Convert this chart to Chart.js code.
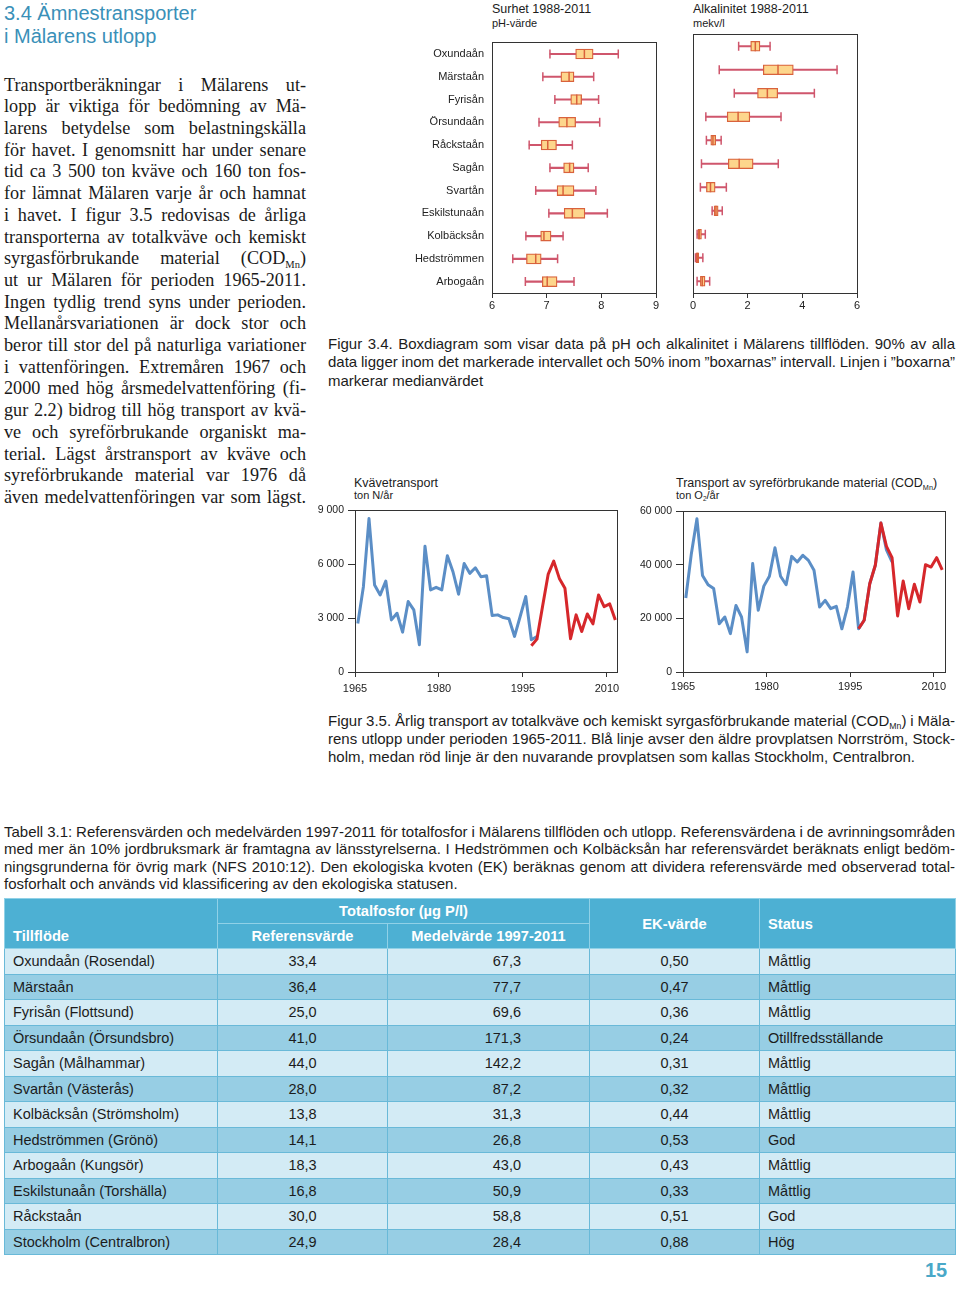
<!DOCTYPE html>
<html lang="sv">
<head>
<meta charset="utf-8">
<title>3.4 Ämnestransporter i Mälarens utlopp</title>
<script src="https://cdn.jsdelivr.net/npm/chart.js@4.4.1/dist/chart.umd.min.js"></script>
<style>
html,body{margin:0;padding:0;background:#fff}
body{position:relative;width:960px;height:1290px;overflow:hidden;font-family:'Liberation Sans',Arial,Helvetica,sans-serif;color:#1c1c1c}
.a{position:absolute}
.ln{white-space:nowrap}
.ln>span{display:inline-block;white-space:nowrap}
sub{font-size:0.58em;line-height:0;vertical-align:-0.35em}
#head{left:4px;top:2px;font-size:20px;line-height:23px;color:#3a90b8}
#body{left:4px;top:74.6px;width:302px;font-family:'Liberation Serif','Times New Roman',serif;font-size:18.2px;line-height:21.7px;color:#1a1a1a}
.ct{font-size:12.5px;line-height:14px;color:#1c1c1c}
.cu{font-size:11px;line-height:13px;color:#1c1c1c}
.cap{font-size:15px;color:#1c1c1c}
#cap34{left:328px;top:335.2px;width:627px;line-height:18.3px}
#cap35{left:328px;top:711.7px;width:627px;line-height:18px}
#capT{left:4px;top:822.9px;width:951px;line-height:17.5px}
.cw{position:absolute}
#tbl{position:absolute;left:4px;top:898px;width:951px;border-collapse:collapse;table-layout:fixed;font-size:14.5px;color:#1c1c1c}
#tbl th{background:#4db0d3;color:#fff;font-weight:bold;font-size:14.7px;border:1px solid #90d1e7;padding:0;text-align:center;vertical-align:middle}
#tbl td{border:1px solid #69b9d8;padding:0;vertical-align:middle;white-space:nowrap}
#tbl thead tr{height:25px}
#tbl tbody tr{height:25.5px}
tr.lt td{background:#d3ebf5}
tr.dk td{background:#97cee4}
td.l{text-align:left;padding-left:8px !important}
td.c{text-align:center}
td.r{text-align:right;padding-right:68px !important}
#pg{left:925px;top:1259px;font-size:20px;line-height:22px;font-weight:bold;color:#4aa8c8}
</style>
</head>
<body>

<div class="a" id="head">3.4 Ämnestransporter<br>i Mälarens utlopp</div>

<div class="a" id="body">
<div class="ln j"><span>Transportberäkningar i Mälarens ut-</span></div>
<div class="ln j"><span>lopp är viktiga för bedömning av Mä-</span></div>
<div class="ln j"><span>larens betydelse som belastningskälla</span></div>
<div class="ln j"><span>för havet. I genomsnitt har under senare</span></div>
<div class="ln j"><span>tid ca 3 500 ton kväve och 160 ton fos-</span></div>
<div class="ln j"><span>for lämnat Mälaren varje år och hamnat</span></div>
<div class="ln j"><span>i havet. I figur 3.5 redovisas de årliga</span></div>
<div class="ln j"><span>transporterna av totalkväve och kemiskt</span></div>
<div class="ln j"><span>syrgasförbrukande material (COD<sub>Mn</sub>)</span></div>
<div class="ln j"><span>ut ur Mälaren för perioden 1965-2011.</span></div>
<div class="ln j"><span>Ingen tydlig trend syns under perioden.</span></div>
<div class="ln j"><span>Mellanårsvariationen är dock stor och</span></div>
<div class="ln j"><span>beror till stor del på naturliga variationer</span></div>
<div class="ln j"><span>i vattenföringen. Extremåren 1967 och</span></div>
<div class="ln j"><span>2000 med hög årsmedelvattenföring (fi-</span></div>
<div class="ln j"><span>gur 2.2) bidrog till hög transport av kvä-</span></div>
<div class="ln j"><span>ve och syreförbrukande organiskt ma-</span></div>
<div class="ln j"><span>terial. Lägst årstransport av kväve och</span></div>
<div class="ln j"><span>syreförbrukande material var 1976 då</span></div>
<div class="ln j"><span>även medelvattenföringen var som lägst.</span></div>
</div>

<!-- Box plot titles -->
<div class="a ct" style="left:492px;top:2px">Surhet 1988-2011</div>
<div class="a cu" style="left:492px;top:16.8px">pH-värde</div>
<div class="a ct" style="left:693px;top:2px">Alkalinitet 1988-2011</div>
<div class="a cu" style="left:693px;top:16.8px">mekv/l</div>

<div class="cw" style="left:400px;top:28px"><canvas id="phChart" width="266" height="292"></canvas></div>
<div class="cw" style="left:640px;top:28px"><canvas id="alkChart" width="226" height="292"></canvas></div>

<div class="a cap" id="cap34">
<div class="ln j"><span>Figur 3.4. Boxdiagram som visar data på pH och alkalinitet i Mälarens tillflöden. 90% av alla</span></div>
<div class="ln j"><span>data ligger inom det markerade intervallet och 50% inom ”boxarnas” intervall. Linjen i ”boxarna”</span></div>
<div class="ln"><span>markerar medianvärdet</span></div>
</div>

<!-- Line chart titles -->
<div class="a ct" style="left:354px;top:475.7px">Kvävetransport</div>
<div class="a cu" style="left:354px;top:488.5px">ton N/år</div>
<div class="a ct" style="left:676px;top:475.7px">Transport av syreförbrukande material (COD<sub>Mn</sub>)</div>
<div class="a cu" style="left:676px;top:488.5px">ton O<sub>2</sub>/år</div>

<div class="cw" style="left:300px;top:500px"><canvas id="nChart" width="325" height="200"></canvas></div>
<div class="cw" style="left:620px;top:500px"><canvas id="codChart" width="335" height="200"></canvas></div>

<div class="a cap" id="cap35">
<div class="ln j"><span>Figur 3.5. Årlig transport av totalkväve och kemiskt syrgasförbrukande material (COD<sub>Mn</sub>) i Mäla-</span></div>
<div class="ln j"><span>rens utlopp under perioden 1965-2011. Blå linje avser den äldre provplatsen Norrström, Stock-</span></div>
<div class="ln"><span>holm, medan röd linje är den nuvarande provplatsen som kallas Stockholm, Centralbron.</span></div>
</div>

<div class="a cap" id="capT">
<div class="ln j"><span>Tabell 3.1: Referensvärden och medelvärden 1997-2011 för totalfosfor i Mälarens tillflöden och utlopp. Referensvärdena i de avrinningsområden</span></div>
<div class="ln j"><span>med mer än 10% jordbruksmark är framtagna av länsstyrelserna. I Hedströmmen och Kolbäcksån har referensvärdet beräknats enligt bedöm-</span></div>
<div class="ln j"><span>ningsgrunderna för övrig mark (NFS 2010:12). Den ekologiska kvoten (EK) beräknas genom att dividera referensvärde med observerad total-</span></div>
<div class="ln"><span>fosforhalt och används vid klassificering av den ekologiska statusen.</span></div>
</div>

<table id="tbl">
<colgroup><col style="width:213px"><col style="width:170px"><col style="width:202px"><col style="width:170px"><col style="width:196px"></colgroup>
<thead>
<tr><th rowspan="2" style="text-align:left;vertical-align:bottom;padding:0 0 4px 8px">Tillflöde</th><th colspan="2">Totalfosfor (µg P/l)</th><th rowspan="2">EK-värde</th><th rowspan="2" style="text-align:left;padding-left:8px">Status</th></tr>
<tr><th>Referensvärde</th><th>Medelvärde 1997-2011</th></tr>
</thead>
<tbody id="tbody"></tbody>
</table>

<div class="a" id="pg">15</div>

<script>
// ---------- Box plot data (Figur 3.4) ----------
const rivers = ['Oxundaån','Märstaån','Fyrisån','Örsundaån','Råckstaån','Sagån','Svartån','Eskilstunaån','Kolbäcksån','Hedströmmen','Arbogaån'];

const phLow  = [7.06, 6.93, 7.15, 6.86, 6.68, 7.06, 6.80, 7.04, 6.62, 6.38, 6.61];
const phQ1   = [7.53, 7.26, 7.44, 7.22, 6.90, 7.31, 7.19, 7.32, 6.89, 6.63, 6.92];
const phMed  = [7.69, 7.41, 7.55, 7.37, 7.02, 7.42, 7.30, 7.47, 6.95, 6.80, 7.01];
const phQ3   = [7.85, 7.50, 7.64, 7.53, 7.18, 7.50, 7.50, 7.70, 7.08, 6.90, 7.19];
const phHigh = [8.31, 7.86, 7.95, 7.97, 7.47, 7.76, 7.90, 8.11, 7.30, 7.20, 7.50];

const alkLow  = [1.67, 0.96, 1.51, 0.47, 0.49, 0.31, 0.27, 0.70, 0.15, 0.09, 0.15];
const alkQ1   = [2.11, 2.57, 2.36, 1.25, 0.65, 1.29, 0.49, 0.77, 0.18, 0.11, 0.27];
const alkMed  = [2.28, 3.11, 2.72, 1.65, 0.73, 1.69, 0.64, 0.84, 0.23, 0.16, 0.34];
const alkQ3   = [2.45, 3.67, 3.10, 2.08, 0.83, 2.20, 0.81, 0.92, 0.31, 0.21, 0.44];
const alkHigh = [2.82, 5.27, 4.44, 3.22, 1.03, 3.12, 1.22, 1.07, 0.45, 0.36, 0.61];

const phTicks  = [6, 7, 8, 9];
const alkTicks = [0, 2, 4, 6];

// ---------- Line chart data (Figur 3.5) ----------
const nBlueYears = [1965,1966,1967,1968,1969,1970,1971,1972,1973,1974,1975,1976,1977,1978,1979,1980,1981,1982,1983,1984,1985,1986,1987,1988,1989,1990,1991,1992,1993,1994,1995,1996,1997];
const nBlue = [2700,4750,8540,4840,4290,5060,2900,3270,2220,3920,3460,1520,7000,4570,4710,4570,6470,5580,4330,6040,5490,5800,5300,5360,3140,3180,3030,2960,1980,3090,4200,1790,1980];
const nRedYears = [1996,1997,1998,1999,2000,2001,2002,2003,2004,2005,2006,2007,2008,2009,2010,2011];
const nRed = [1460,1830,3640,5430,6170,5210,4660,1850,3180,2250,3230,2680,4290,3640,3790,2900];

const codBlueYears = [1965,1966,1967,1968,1969,1970,1971,1972,1973,1974,1975,1976,1977,1978,1979,1980,1981,1982,1983,1984,1985,1986,1987,1988,1989,1990,1991,1992,1993,1994,1995,1996,1997,1998,1999,2000,2001,2002];
const codBlue = [27600,44100,57100,36000,32500,31100,18000,20500,14300,24800,20500,7500,40400,23000,32000,35700,46300,35700,32500,43100,41000,43500,41600,37900,24200,26700,23600,24500,16100,24200,37300,16100,19300,32900,39800,55500,45500,41000];
const codRedYears = [1996,1997,1998,1999,2000,2001,2002,2003,2004,2005,2006,2007,2008,2009,2010,2011];
const codRed = [16100,19300,32900,39800,55500,46800,42600,20900,33900,23600,32700,26100,40000,39100,42600,38100];

const yearTicks = [1965, 1980, 1995, 2010];
const nTicks = [0, 3000, 6000, 9000];
const codTicks = [0, 20000, 40000, 60000];

// ---------- Table data (Tabell 3.1) ----------
const tableRivers = ['Oxundaån (Rosendal)','Märstaån','Fyrisån (Flottsund)','Örsundaån (Örsundsbro)','Sagån (Målhammar)','Svartån (Västerås)','Kolbäcksån (Strömsholm)','Hedströmmen (Grönö)','Arbogaån (Kungsör)','Eskilstunaån (Torshälla)','Råckstaån','Stockholm (Centralbron)'];
const refValues  = [33.4, 36.4, 25.0, 41.0, 44.0, 28.0, 13.8, 14.1, 18.3, 16.8, 30.0, 24.9];
const meanValues = [67.3, 77.7, 69.6, 171.3, 142.2, 87.2, 31.3, 26.8, 43.0, 50.9, 58.8, 28.4];
const ekValues   = [0.50, 0.47, 0.36, 0.24, 0.31, 0.32, 0.44, 0.53, 0.43, 0.33, 0.51, 0.88];
const statusValues = ['Måttlig','Måttlig','Måttlig','Otillfredsställande','Måttlig','Måttlig','Måttlig','God','Måttlig','Måttlig','God','Hög'];

// ---------- Styles ----------
const BOX_FILL = '#fdd68c';
const BOX_LINE = '#d9623c';
const WHISK = '#cf566c';
const BLUE = '#5b8ec6';
const RED = '#d6272b';
const AXIS = '#333333';

Chart.defaults.font.family = "'Liberation Sans', Arial, Helvetica, sans-serif";
Chart.defaults.color = '#222';
Chart.defaults.animation = false;
Chart.defaults.events = [];
Chart.defaults.plugins.legend.display = false;
Chart.defaults.plugins.tooltip.enabled = false;

const al = v => Math.round(v - 0.5) + 0.5;
const framePlugin = {
  id: 'frame',
  beforeDatasetsDraw(chart) {
    const {ctx, chartArea: c} = chart;
    ctx.save();
    ctx.strokeStyle = AXIS;
    ctx.lineWidth = 1;
    const l = al(c.left), t = al(c.top), r = al(c.right), b = al(c.bottom);
    ctx.strokeRect(l, t, r - l, b - t);
    ctx.restore();
  }
};

const thousands = v => v === 0 ? '0' : String(v).replace(/\B(?=(\d{3})+(?!\d))/g, ' ');

function boxChart(id, low, q1, med, q3, high, xTicks, cfg) {
  return new Chart(document.getElementById(id), {
    type: 'bar',
    data: {
      labels: rivers,
      datasets: [
        { type: 'line', indexAxis: 'y', data: rivers.flatMap((r, i) => [{x: low[i], y: r}, {x: high[i], y: r}]),
          showLine: false, pointStyle: 'line', pointRotation: 90, pointRadius: 4.5, pointBorderWidth: 1.5,
          borderColor: WHISK, pointBorderColor: WHISK, backgroundColor: WHISK, order: 0 },
        { type: 'line', indexAxis: 'y', data: rivers.map((r, i) => ({x: med[i], y: r})),
          showLine: false, pointStyle: 'line', pointRotation: 90, pointRadius: 5, pointBorderWidth: 1.5,
          borderColor: BOX_LINE, pointBorderColor: BOX_LINE, backgroundColor: BOX_LINE, order: 1 },
        { data: rivers.map((r, i) => [q1[i], q3[i]]), backgroundColor: BOX_FILL, borderColor: BOX_LINE,
          borderWidth: 1.3, borderSkipped: false, barThickness: 10, grouped: false, order: 2 },
        { data: rivers.map((r, i) => [low[i], high[i]]), backgroundColor: WHISK, borderWidth: 0,
          barThickness: 1.5, grouped: false, order: 3 }
      ]
    },
    options: {
      indexAxis: 'y',
      responsive: false,
      devicePixelRatio: 1,
      layout: { padding: { top: cfg.padTop, right: cfg.padRight, left: 0, bottom: 0 } },
      scales: {
        x: {
          type: 'linear', min: xTicks[0], max: xTicks[xTicks.length - 1],
          afterBuildTicks(s) { s.ticks = xTicks.map(v => ({value: v})); },
          ticks: { padding: 1, font: { size: 11 }, color: '#222', callback: v => String(v) },
          grid: { display: true, drawOnChartArea: false, drawTicks: true, tickLength: 5, color: AXIS },
          border: { display: true, color: AXIS },
          afterFit(s) { s.height = cfg.xH; }
        },
        y: {
          type: 'category', offset: true,
          ticks: { display: cfg.labels, padding: 8, font: { size: 11 }, color: '#222' },
          grid: { display: false, drawTicks: false },
          border: { display: true, color: AXIS },
          afterFit(s) { s.width = cfg.yW; }
        }
      }
    },
    plugins: [framePlugin]
  });
}

function lineChart(id, blueYears, blue, redYears, red, yTicks, cfg) {
  return new Chart(document.getElementById(id), {
    type: 'line',
    data: {
      datasets: [
        { data: redYears.map((y, i) => ({x: y + 0.5, y: red[i]})), borderColor: RED, backgroundColor: RED,
          borderWidth: 3, pointRadius: 0, tension: 0, borderJoinStyle: 'round', order: 0 },
        { data: blueYears.map((y, i) => ({x: y + 0.5, y: blue[i]})), borderColor: BLUE, backgroundColor: BLUE,
          borderWidth: 3, pointRadius: 0, tension: 0, borderJoinStyle: 'round', order: 1 }
      ]
    },
    options: {
      responsive: false,
      devicePixelRatio: 1,
      layout: { padding: { top: cfg.padTop, right: cfg.padRight, left: 0, bottom: 0 } },
      scales: {
        x: {
          type: 'linear', min: yearTicks[0], max: cfg.xMax,
          afterBuildTicks(s) { s.ticks = yearTicks.map(v => ({value: v})); },
          ticks: { padding: cfg.xPad, font: { size: 11 }, color: '#222', callback: v => String(v) },
          grid: { display: true, drawOnChartArea: false, drawTicks: true, tickLength: 5, color: AXIS },
          border: { display: true, color: AXIS },
          afterFit(s) { s.height = cfg.xH; }
        },
        y: {
          type: 'linear', min: yTicks[0], max: yTicks[yTicks.length - 1],
          afterBuildTicks(s) { s.ticks = yTicks.map(v => ({value: v})); },
          ticks: { padding: 4, font: { size: 10.5 }, color: '#222', callback: thousands },
          grid: { display: true, drawOnChartArea: false, drawTicks: true, tickLength: 7, color: AXIS },
          border: { display: true, color: AXIS },
          afterFit(s) { s.width = cfg.yW; }
        }
      }
    },
    plugins: [framePlugin]
  });
}

boxChart('phChart', phLow, phQ1, phMed, phQ3, phHigh, phTicks, { yW: 92, padTop: 6, padRight: 10, xH: 27, labels: true });
boxChart('alkChart', alkLow, alkQ1, alkMed, alkQ3, alkHigh, alkTicks, { yW: 53, padTop: 6, padRight: 9, xH: 27, labels: false });
lineChart('nChart', nBlueYears, nBlue, nRedYears, nRed, nTicks, { yW: 55, padTop: 10, padRight: 8, xH: 28, xMax: 2011.8, xPad: 5 });
lineChart('codChart', codBlueYears, codBlue, codRedYears, codRed, codTicks, { yW: 63, padTop: 11, padRight: 10, xH: 28, xMax: 2012, xPad: 3 });

// ---------- Table ----------
const f1 = v => v.toFixed(1).replace('.', ',');
const f2 = v => v.toFixed(2).replace('.', ',');
const tb = document.getElementById('tbody');
tableRivers.forEach((r, i) => {
  const tr = document.createElement('tr');
  tr.className = i % 2 ? 'dk' : 'lt';
  tr.innerHTML = '<td class="l">' + r + '</td><td class="c">' + f1(refValues[i]) + '</td><td class="r">' +
    f1(meanValues[i]) + '</td><td class="c">' + f2(ekValues[i]) + '</td><td class="l">' + statusValues[i] + '</td>';
  tb.appendChild(tr);
});

// ---------- Justified lines ----------
function justifyAll() {
  document.querySelectorAll('.j').forEach(el => {
    const s = el.firstElementChild;
    s.style.wordSpacing = '0px';
    const W = el.clientWidth;
    const w = s.getBoundingClientRect().width;
    const n = (s.textContent.match(/ /g) || []).length;
    if (n) s.style.wordSpacing = ((W - w) / n) + 'px';
  });
}
justifyAll();
if (document.fonts && document.fonts.ready) document.fonts.ready.then(justifyAll);
</script>
</body>
</html>
